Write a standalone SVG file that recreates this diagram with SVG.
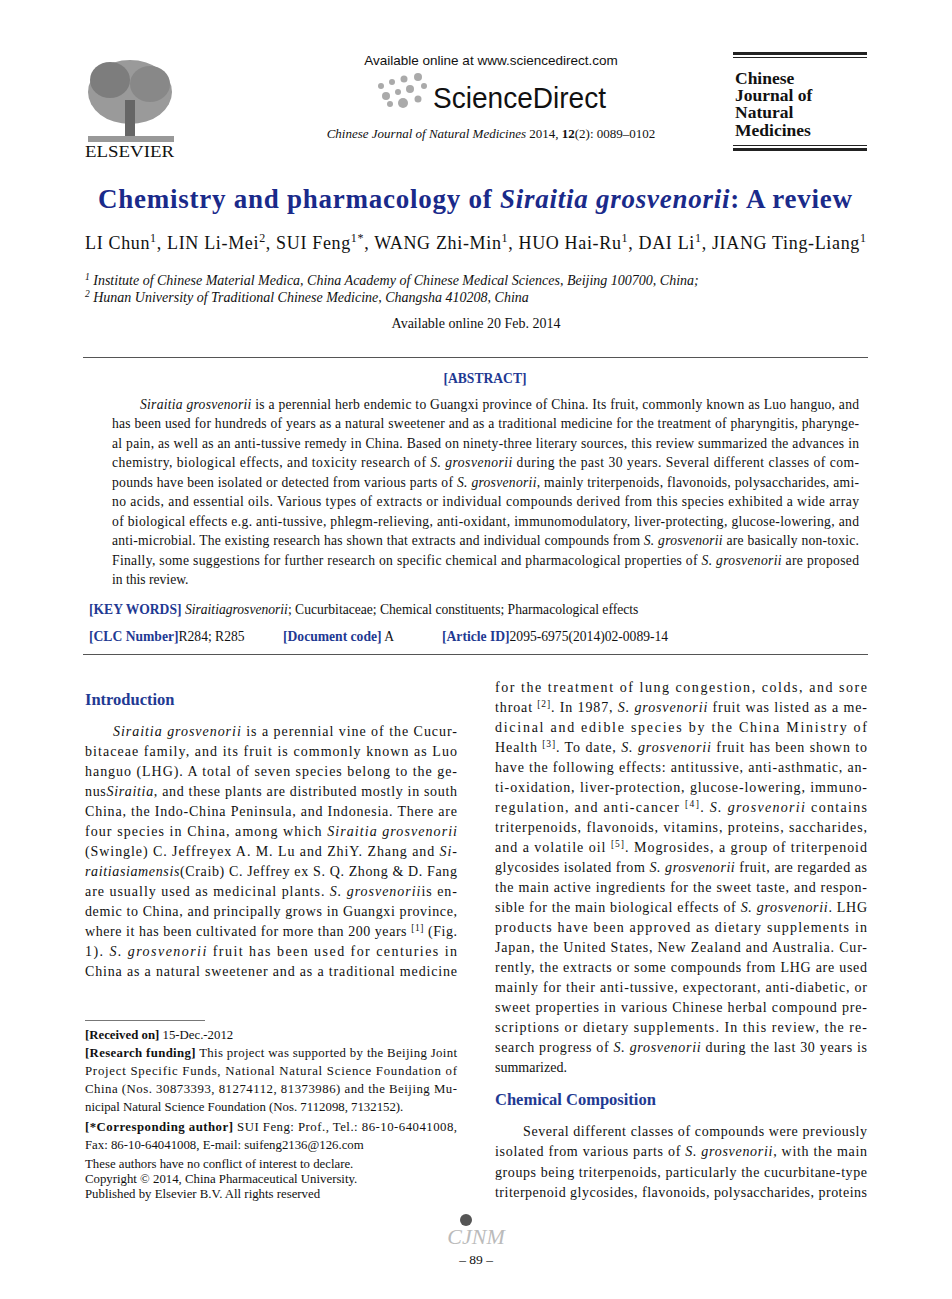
<svg xmlns="http://www.w3.org/2000/svg" width="952" height="1299" viewBox="0 0 952 1299">
<style>
text{font-family:"Liberation Serif",serif;fill:#111}
.b{font-size:14px}
.ab{font-size:13.6px}
.i{font-style:italic}
.bl{fill:#1f3a93;font-weight:bold}
.h{font-size:16.5px;fill:#1f3a93;font-weight:bold}
.s{font-family:"Liberation Sans",sans-serif}
.f{font-size:12.8px}
.sup{font-size:9.5px}
.asup{font-size:12px}
.jt{font-size:17.5px;font-weight:bold}
</style>
<rect width="952" height="1299" fill="#fff"/>
<g id="elsevier">
<ellipse cx="130" cy="92" rx="42" ry="32" fill="#9a9a9a"/>
<ellipse cx="110" cy="80" rx="20" ry="18" fill="#7d7d7d"/>
<ellipse cx="150" cy="84" rx="20" ry="18" fill="#888"/>
<rect x="125" y="100" width="10" height="38" fill="#666"/>
<rect x="88" y="136" width="86" height="6" fill="#999"/>
<text x="85" y="157" font-size="17" textLength="89" lengthAdjust="spacingAndGlyphs">ELSEVIER</text>
</g>
<g id="header">
<text x="491" y="65" class="s" font-size="13.5" text-anchor="middle">Available online at www.sciencedirect.com</text>
<g fill="#aaa"><circle cx="381" cy="86" r="3"/><circle cx="392" cy="82" r="3"/><circle cx="404" cy="79" r="3.5"/><circle cx="418" cy="77" r="4"/><circle cx="386" cy="96" r="4"/><circle cx="398" cy="92" r="3"/><circle cx="410" cy="89" r="4"/><circle cx="424" cy="86" r="3"/><circle cx="390" cy="104" r="3"/><circle cx="403" cy="103" r="5"/><circle cx="418" cy="99" r="3.5"/></g>
<text x="433" y="108" class="s" font-size="29" fill="#222" textLength="173" lengthAdjust="spacingAndGlyphs">ScienceDirect</text>
<text x="491" y="138" font-size="13" text-anchor="middle"><tspan class="i">Chinese Journal of Natural Medicines</tspan> 2014, <tspan font-weight="bold">12</tspan>(2): 0089–0102</text>
</g>
<g id="journal">
<rect x="733" y="52" width="134" height="3" fill="#222"/>
<rect x="733" y="57" width="134" height="1" fill="#222"/>
<text x="735" y="84" class="jt">Chinese</text>
<text x="735" y="101" class="jt">Journal of</text>
<text x="735" y="118" class="jt">Natural</text>
<text x="735" y="136" class="jt">Medicines</text>
<rect x="733" y="145" width="134" height="1" fill="#222"/>
<rect x="733" y="148" width="134" height="3" fill="#222"/>
</g>
<g id="titleblock">
<text x="98" y="208" font-size="27" font-weight="bold" style="fill:#1a2a8a" textLength="754" lengthAdjust="spacing">Chemistry and pharmacology of <tspan class="i">Siraitia grosvenorii</tspan>: A review</text>
<text x="85" y="249" font-size="18" textLength="781" lengthAdjust="spacing">LI Chun<tspan class="asup" dy="-7">1</tspan><tspan dy="7">, LIN Li-Mei</tspan><tspan class="asup" dy="-7">2</tspan><tspan dy="7">, SUI Feng</tspan><tspan class="asup" dy="-7">1*</tspan><tspan dy="7">, WANG Zhi-Min</tspan><tspan class="asup" dy="-7">1</tspan><tspan dy="7">, HUO Hai-Ru</tspan><tspan class="asup" dy="-7">1</tspan><tspan dy="7">, DAI Li</tspan><tspan class="asup" dy="-7">1</tspan><tspan dy="7">, JIANG Ting-Liang</tspan><tspan class="asup" dy="-7">1</tspan></text>
<text x="85" y="285" font-size="14" class="i"><tspan class="sup" dy="-5">1</tspan><tspan dy="5"> Institute of Chinese Material Medica, China Academy of Chinese Medical Sciences, Beijing 100700, China;</tspan></text>
<text x="85" y="302" font-size="14" class="i"><tspan class="sup" dy="-5">2</tspan><tspan dy="5"> Hunan University of Traditional Chinese Medicine, Changsha 410208, China</tspan></text>
<text x="476" y="328" font-size="14" text-anchor="middle">Available online 20 Feb. 2014</text>
<rect x="83" y="357" width="785" height="1" fill="#555"/>
</g>
<g id="abstract" class="ab">
<text x="485" y="383" class="bl" text-anchor="middle">[ABSTRACT]</text>
<text x="140" y="409" textLength="719" lengthAdjust="spacing"><tspan class="i">Siraitia grosvenorii</tspan> is a perennial herb endemic to Guangxi province of China. Its fruit, commonly known as Luo hanguo, and</text>
<text x="112" y="428" textLength="747" lengthAdjust="spacing">has been used for hundreds of years as a natural sweetener and as a traditional medicine for the treatment of pharyngitis, pharynge-</text>
<text x="112" y="448" textLength="747" lengthAdjust="spacing">al pain, as well as an anti-tussive remedy in China. Based on ninety-three literary sources, this review summarized the advances in</text>
<text x="112" y="467" textLength="747" lengthAdjust="spacing">chemistry, biological effects, and toxicity research of <tspan class="i">S. grosvenorii</tspan> during the past 30 years. Several different classes of com-</text>
<text x="112" y="487" textLength="747" lengthAdjust="spacing">pounds have been isolated or detected from various parts of <tspan class="i">S. grosvenorii</tspan>, mainly triterpenoids, flavonoids, polysaccharides, ami-</text>
<text x="112" y="506" textLength="747" lengthAdjust="spacing">no acids, and essential oils. Various types of extracts or individual compounds derived from this species exhibited a wide array</text>
<text x="112" y="526" textLength="747" lengthAdjust="spacing">of biological effects e.g. anti-tussive, phlegm-relieving, anti-oxidant, immunomodulatory, liver-protecting, glucose-lowering, and</text>
<text x="112" y="545" textLength="747" lengthAdjust="spacing">anti-microbial. The existing research has shown that extracts and individual compounds from <tspan class="i">S. grosvenorii</tspan> are basically non-toxic.</text>
<text x="112" y="565" textLength="747" lengthAdjust="spacing">Finally, some suggestions for further research on specific chemical and pharmacological properties of <tspan class="i">S. grosvenorii</tspan> are proposed</text>
<text x="112" y="584">in this review.</text>
<text x="89" y="614"><tspan class="bl">[KEY WORDS]</tspan> <tspan class="i">Siraitiagrosvenorii</tspan>; Cucurbitaceae; Chemical constituents; Pharmacological effects</text>
<text x="89" y="641"><tspan class="bl">[CLC Number]</tspan>R284; R285</text>
<text x="283" y="641"><tspan class="bl">[Document code]</tspan> A</text>
<text x="442" y="641"><tspan class="bl">[Article ID]</tspan>2095-6975(2014)02-0089-14</text>
<rect x="83" y="654" width="785" height="1" fill="#555"/>
</g>
<g id="leftcol" class="b">
<text x="85" y="705" class="h">Introduction</text>
<text x="113" y="736" textLength="344" lengthAdjust="spacing"><tspan class="i">Siraitia grosvenorii</tspan> is a perennial vine of the Cucur-</text>
<text x="85" y="756" textLength="372" lengthAdjust="spacing">bitaceae family, and its fruit is commonly known as Luo</text>
<text x="85" y="776" textLength="372" lengthAdjust="spacing">hanguo (LHG). A total of seven species belong to the ge-</text>
<text x="85" y="796" textLength="372" lengthAdjust="spacing">nus<tspan class="i">Siraitia</tspan>, and these plants are distributed mostly in south</text>
<text x="85" y="816" textLength="372" lengthAdjust="spacing">China, the Indo-China Peninsula, and Indonesia. There are</text>
<text x="85" y="836" textLength="372" lengthAdjust="spacing">four species in China, among which <tspan class="i">Siraitia grosvenorii</tspan></text>
<text x="85" y="856" textLength="372" lengthAdjust="spacing">(Swingle) C. Jeffreyex A. M. Lu and ZhiY. Zhang and <tspan class="i">Si-</tspan></text>
<text x="85" y="876" textLength="372" lengthAdjust="spacing"><tspan class="i">raitiasiamensis</tspan>(Craib) C. Jeffrey ex S. Q. Zhong &amp; D. Fang</text>
<text x="85" y="896" textLength="372" lengthAdjust="spacing">are usually used as medicinal plants. <tspan class="i">S. grosvenorii</tspan>is en-</text>
<text x="85" y="916" textLength="372" lengthAdjust="spacing">demic to China, and principally grows in Guangxi province,</text>
<text x="85" y="936" textLength="372" lengthAdjust="spacing">where it has been cultivated for more than 200 years <tspan class="sup" dy="-5">[1]</tspan><tspan dy="5"> (Fig.</tspan></text>
<text x="85" y="956" textLength="372" lengthAdjust="spacing">1). <tspan class="i">S. grosvenorii</tspan>  fruit has been used for centuries in</text>
<text x="85" y="976" textLength="372" lengthAdjust="spacing">China as a natural sweetener and as a traditional medicine</text>
<rect x="85" y="1020" width="120" height="0.8" fill="#555"/>
<g class="f">
<text x="85" y="1039"><tspan font-weight="bold">[Received on]</tspan>  15-Dec.-2012</text>
<text x="85" y="1057" textLength="372" lengthAdjust="spacing"><tspan font-weight="bold">[Research funding]</tspan> This project was supported by the Beijing Joint</text>
<text x="85" y="1075" textLength="372" lengthAdjust="spacing">Project Specific Funds, National Natural Science Foundation of</text>
<text x="85" y="1093" textLength="372" lengthAdjust="spacing">China (Nos. 30873393, 81274112, 81373986) and the Beijing Mu-</text>
<text x="85" y="1111">nicipal Natural Science Foundation (Nos. 7112098, 7132152).</text>
<text x="85" y="1131" textLength="372" lengthAdjust="spacing"><tspan font-weight="bold">[*Corresponding author]</tspan> SUI Feng: Prof., Tel.: 86-10-64041008,</text>
<text x="85" y="1149">Fax: 86-10-64041008, E-mail: suifeng2136@126.com</text>
<text x="85" y="1168">These authors have no conflict of interest to declare.</text>
<text x="85" y="1183">Copyright © 2014, China Pharmaceutical University.</text>
<text x="85" y="1198">Published by Elsevier B.V. All rights reserved</text>
</g>
</g>
<g id="rightcol" class="b">
<text x="495" y="692" textLength="372" lengthAdjust="spacing">for the treatment of lung congestion, colds, and sore</text>
<text x="495" y="712" textLength="372" lengthAdjust="spacing">throat <tspan class="sup" dy="-5">[2]</tspan><tspan dy="5">. In 1987, </tspan><tspan class="i">S. grosvenorii</tspan> fruit was listed as a me-</text>
<text x="495" y="732" textLength="372" lengthAdjust="spacing">dicinal and edible species by the China Ministry of</text>
<text x="495" y="752" textLength="372" lengthAdjust="spacing">Health <tspan class="sup" dy="-5">[3]</tspan><tspan dy="5">. To date, </tspan><tspan class="i">S. grosvenorii</tspan> fruit has been shown to</text>
<text x="495" y="772" textLength="372" lengthAdjust="spacing">have the following effects: antitussive, anti-asthmatic, an-</text>
<text x="495" y="792" textLength="372" lengthAdjust="spacing">ti-oxidation, liver-protection, glucose-lowering, immuno-</text>
<text x="495" y="812" textLength="372" lengthAdjust="spacing">regulation, and anti-cancer <tspan class="sup" dy="-5">[4]</tspan><tspan dy="5">. </tspan><tspan class="i">S. grosvenorii</tspan> contains</text>
<text x="495" y="832" textLength="372" lengthAdjust="spacing">triterpenoids, flavonoids, vitamins, proteins, saccharides,</text>
<text x="495" y="852" textLength="372" lengthAdjust="spacing">and a volatile oil <tspan class="sup" dy="-5">[5]</tspan><tspan dy="5">. Mogrosides, a group of triterpenoid</tspan></text>
<text x="495" y="872" textLength="372" lengthAdjust="spacing">glycosides isolated from <tspan class="i">S. grosvenorii</tspan> fruit, are regarded as</text>
<text x="495" y="892" textLength="372" lengthAdjust="spacing">the main active ingredients for the sweet taste, and respon-</text>
<text x="495" y="912" textLength="372" lengthAdjust="spacing">sible for the main biological effects of <tspan class="i">S. grosvenorii</tspan>. LHG</text>
<text x="495" y="932" textLength="372" lengthAdjust="spacing">products have been approved as dietary supplements in</text>
<text x="495" y="952" textLength="372" lengthAdjust="spacing">Japan, the United States, New Zealand and Australia. Cur-</text>
<text x="495" y="972" textLength="372" lengthAdjust="spacing">rently, the extracts or some compounds from LHG are used</text>
<text x="495" y="992" textLength="372" lengthAdjust="spacing">mainly for their anti-tussive, expectorant, anti-diabetic, or</text>
<text x="495" y="1012" textLength="372" lengthAdjust="spacing">sweet properties in various Chinese herbal compound pre-</text>
<text x="495" y="1032" textLength="372" lengthAdjust="spacing">scriptions or dietary supplements. In this review, the re-</text>
<text x="495" y="1052" textLength="372" lengthAdjust="spacing">search progress of <tspan class="i">S. grosvenorii</tspan> during the last 30 years is</text>
<text x="495" y="1072">summarized.</text>
<text x="495" y="1105" class="h">Chemical Composition</text>
<text x="523" y="1136" textLength="344" lengthAdjust="spacing">Several different classes of compounds were previously</text>
<text x="495" y="1156" textLength="372" lengthAdjust="spacing">isolated from various parts of <tspan class="i">S. grosvenorii</tspan>, with the main</text>
<text x="495" y="1177" textLength="372" lengthAdjust="spacing">groups being triterpenoids, particularly the cucurbitane-type</text>
<text x="495" y="1197" textLength="372" lengthAdjust="spacing">triterpenoid glycosides, flavonoids, polysaccharides, proteins</text>
</g>
<g id="footer">
<circle cx="466" cy="1220" r="6" fill="#555"/>
<text x="476" y="1244" font-size="22" class="i" style="fill:#bbb" text-anchor="middle">CJNM</text>
<text x="476" y="1264" font-size="13.5" text-anchor="middle">– 89 –</text>
</g>
</svg>
